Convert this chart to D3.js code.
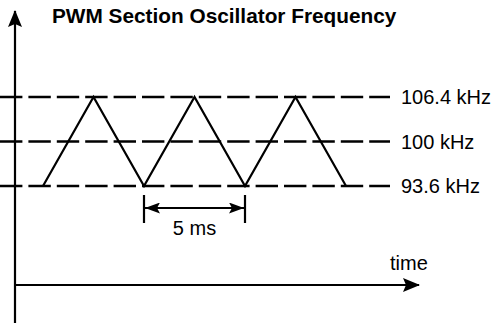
<!DOCTYPE html>
<html>
<head>
<meta charset="utf-8">
<script src="https://cdn.jsdelivr.net/npm/d3@7"></script>
<style>
  html, body { margin: 0; padding: 0; background: #fff; }
  svg { display: block; font-family: "Liberation Sans", Arial, Helvetica, sans-serif; }
</style>
</head>
<body>
<svg id="chart" width="497" height="326"></svg>
<script>
// Oscillator frequency levels (kHz) and their labels
const levels = [106.4, 100, 93.6];
const levelLabels = ["106.4 kHz", "100 kHz", "93.6 kHz"];

// Triangle sweep: time (ms) and frequency (kHz) at each corner
const sweepTime = [0, 2.5, 5, 7.5, 10, 12.5, 15];
const sweepFreq = [93.6, 106.4, 93.6, 106.4, 93.6, 106.4, 93.6];

// One modulation period, marked with a dimension arrow
const periodStart = [5];
const periodEnd = [10];
const periodLabel = ["5 ms"];

const title = "PWM Section Oscillator Frequency";
const xAxisLabel = "time";

const svg = d3.select("#chart");
const ink = "#000";

const x = d3.scaleLinear().domain([0, 15]).range([43, 346]);
const y = d3.scaleLinear().domain([93.6, 106.4]).range([186, 97]);

// Arrowhead markers
const defs = svg.append("defs");
defs.append("marker")
  .attr("id", "axisHead")
  .attr("viewBox", "0 0 17 14")
  .attr("refX", 16).attr("refY", 7)
  .attr("markerWidth", 17).attr("markerHeight", 14)
  .attr("markerUnits", "userSpaceOnUse")
  .attr("orient", "auto-start-reverse")
  .append("path").attr("d", "M0,0 L17,7 L0,14 L3,7 Z").attr("fill", ink);

defs.append("marker")
  .attr("id", "dimHead")
  .attr("viewBox", "0 0 15 11")
  .attr("refX", 15).attr("refY", 5.5)
  .attr("markerWidth", 15).attr("markerHeight", 11)
  .attr("markerUnits", "userSpaceOnUse")
  .attr("orient", "auto-start-reverse")
  .append("path").attr("d", "M0,0 L15,5.5 L0,11 L3,5.5 Z").attr("fill", ink);

// Title
svg.append("text")
  .attr("x", 52).attr("y", 23)
  .attr("font-size", 20.8).attr("font-weight", "bold")
  .attr("fill", ink)
  .text(title);

// Dashed frequency levels with labels
const levelG = svg.append("g");
levelG.selectAll("line")
  .data(levels)
  .join("line")
  .attr("x1", 0).attr("x2", 390)
  .attr("y1", d => y(d)).attr("y2", d => y(d))
  .attr("stroke", ink).attr("stroke-width", 2.5)
  .attr("stroke-dasharray", "22.4,6");

levelG.selectAll("text")
  .data(levels)
  .join("text")
  .attr("x", 401)
  .attr("y", d => y(d) + 7)
  .attr("font-size", 20)
  .attr("fill", ink)
  .text((d, i) => levelLabels[i]);

// Axes
svg.append("line")
  .attr("x1", 15).attr("y1", 323).attr("x2", 15).attr("y2", 11)
  .attr("stroke", ink).attr("stroke-width", 2.2)
  .attr("marker-end", "url(#axisHead)");

svg.append("line")
  .attr("x1", 15).attr("y1", 285).attr("x2", 419).attr("y2", 285)
  .attr("stroke", ink).attr("stroke-width", 2.2)
  .attr("marker-end", "url(#axisHead)");

svg.append("text")
  .attr("x", 390).attr("y", 270)
  .attr("font-size", 20)
  .attr("fill", ink)
  .text(xAxisLabel);

// Triangle frequency sweep
const sweep = sweepTime.map((t, i) => [t, sweepFreq[i]]);
svg.append("path")
  .datum(sweep)
  .attr("d", d3.line().x(d => x(d[0])).y(d => y(d[1])))
  .attr("fill", "none")
  .attr("stroke", ink).attr("stroke-width", 2.2)
  .attr("stroke-linejoin", "miter");

// Period dimension
const dimY = 208;
const dim = svg.append("g");
[periodStart[0], periodEnd[0]].forEach(t => {
  dim.append("line")
    .attr("x1", x(t)).attr("x2", x(t))
    .attr("y1", 195).attr("y2", 223)
    .attr("stroke", ink).attr("stroke-width", 2.2);
});
dim.append("line")
  .attr("x1", x(periodStart[0]) + 1).attr("x2", x(periodEnd[0]) - 1)
  .attr("y1", dimY).attr("y2", dimY)
  .attr("stroke", ink).attr("stroke-width", 2.2)
  .attr("marker-start", "url(#dimHead)")
  .attr("marker-end", "url(#dimHead)");
dim.append("text")
  .attr("x", (x(periodStart[0]) + x(periodEnd[0])) / 2)
  .attr("y", 235)
  .attr("text-anchor", "middle")
  .attr("font-size", 20)
  .attr("fill", ink)
  .text(periodLabel[0]);
</script>
</body>
</html>
